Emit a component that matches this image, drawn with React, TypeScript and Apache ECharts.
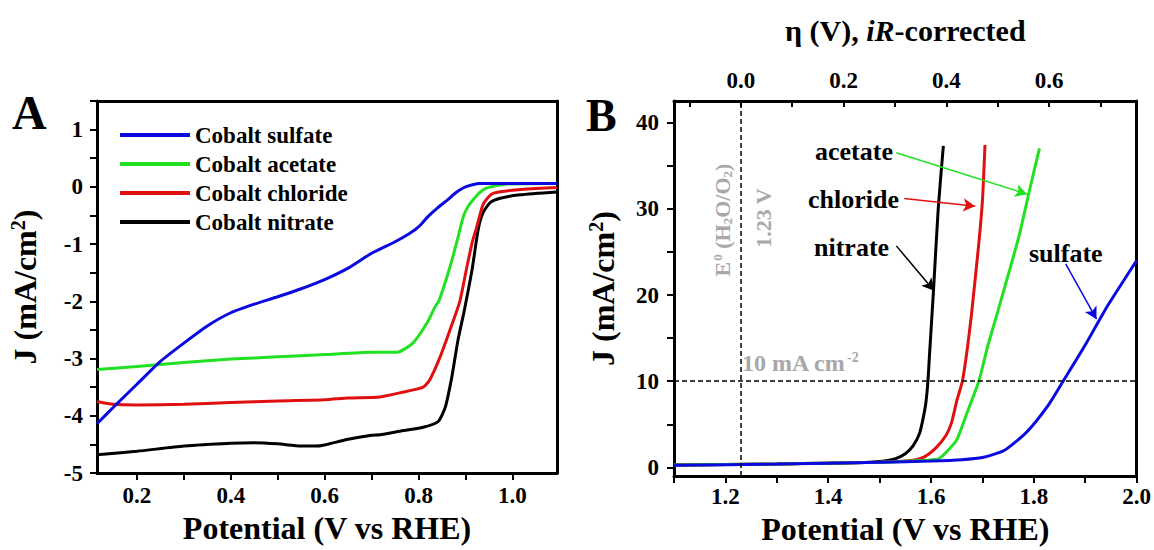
import React, { useEffect, useRef } from "react";
import * as echarts from "echarts";

const SERIF = '"Liberation Serif", "Times New Roman", serif';

// ---------- Names & colours ----------
const seriesNames = ["Cobalt sulfate", "Cobalt acetate", "Cobalt chloride", "Cobalt nitrate"];
const seriesColors = ["#0a0ae0", "#22e022", "#e01010", "#000000"];

// ---------- Panel A (ORR-like sweep) ----------
const sulfateA_V = [0.115, 0.15, 0.2, 0.25, 0.3, 0.35, 0.4, 0.45, 0.5, 0.55, 0.6, 0.65, 0.7, 0.75, 0.78, 0.8, 0.82, 0.84, 0.86, 0.88, 0.9, 0.93, 1.0, 1.095];
const sulfateA_J = [-4.14, -3.85, -3.45, -3.05, -2.73, -2.43, -2.2, -2.05, -1.92, -1.78, -1.62, -1.42, -1.16, -0.96, -0.82, -0.7, -0.52, -0.37, -0.24, -0.1, 0.0, 0.06, 0.06, 0.06];

const acetateA_V = [0.115, 0.2, 0.3, 0.4, 0.5, 0.6, 0.7, 0.754, 0.788, 0.818, 0.835, 0.844, 0.867, 0.882, 0.895, 0.905, 0.916, 0.93, 0.945, 0.988, 1.095];
const acetateA_J = [-3.19, -3.14, -3.07, -3.01, -2.97, -2.93, -2.89, -2.89, -2.73, -2.38, -2.1, -1.98, -1.4, -0.95, -0.53, -0.35, -0.23, -0.1, -0.02, 0.05, 0.06];

const chlorideA_V = [0.115, 0.15, 0.2, 0.3, 0.4, 0.5, 0.6, 0.65, 0.718, 0.76, 0.81, 0.824, 0.846, 0.867, 0.888, 0.903, 0.915, 0.924, 0.937, 0.95, 0.96, 1.0, 1.05, 1.095];
const chlorideA_J = [-3.75, -3.8, -3.81, -3.8, -3.77, -3.74, -3.72, -3.69, -3.67, -3.6, -3.5, -3.37, -2.97, -2.5, -2.0, -1.4, -0.95, -0.7, -0.32, -0.17, -0.11, -0.06, -0.03, -0.01];

const nitrateA_V = [0.115, 0.2, 0.3, 0.4, 0.45, 0.5, 0.55, 0.58, 0.6, 0.65, 0.7, 0.718, 0.76, 0.81, 0.842, 0.857, 0.871, 0.884, 0.897, 0.914, 0.927, 0.937, 0.952, 0.974, 1.016, 1.095];
const nitrateA_J = [-4.68, -4.62, -4.53, -4.48, -4.47, -4.49, -4.53, -4.53, -4.51, -4.41, -4.34, -4.33, -4.27, -4.2, -4.1, -3.85, -3.32, -2.68, -2.18, -1.45, -0.75, -0.46, -0.28, -0.2, -0.14, -0.09];

// ---------- Panel B (OER polarisation) ----------
const nitrateB_E = [1.1, 1.2, 1.3, 1.4, 1.48, 1.51, 1.53, 1.55, 1.565, 1.578, 1.585, 1.59, 1.594, 1.597, 1.605, 1.614, 1.624];
const nitrateB_J = [0.3, 0.35, 0.4, 0.5, 0.6, 0.75, 1.0, 1.6, 2.5, 4.0, 5.8, 7.5, 10, 13, 20.7, 30, 37.3];

const chlorideB_E = [1.1, 1.2, 1.3, 1.4, 1.5, 1.56, 1.586, 1.61, 1.629, 1.64, 1.65, 1.661, 1.67, 1.679, 1.693, 1.7, 1.705];
const chlorideB_J = [0.3, 0.35, 0.4, 0.5, 0.6, 0.8, 1.2, 2.3, 3.7, 5.2, 7.7, 10, 13.5, 17.9, 26, 30.9, 37.4];

const acetateB_E = [1.1, 1.2, 1.3, 1.4, 1.5, 1.58, 1.614, 1.63, 1.65, 1.671, 1.693, 1.71, 1.729, 1.75, 1.771, 1.793, 1.811];
const acetateB_J = [0.3, 0.35, 0.4, 0.5, 0.6, 0.8, 1.0, 1.8, 3.2, 6.5, 10, 14, 17.9, 22.3, 26.8, 32.5, 37];

const sulfateB_E = [1.1, 1.3, 1.5, 1.6, 1.66, 1.7, 1.743, 1.786, 1.829, 1.857, 1.9, 1.943, 2.0];
const sulfateB_J = [0.25, 0.4, 0.6, 0.75, 0.9, 1.15, 2.0, 4.1, 7.3, 10, 14.2, 18.7, 24];

// Reference lines (panel B)
const E0_H2O_O2 = 1.23;
const J_10 = 10;

// Annotation arrows (panel B), [startE, startJ, endE, endJ]
const arrowAcetate = [1.5325, 36.5, 1.787, 31.7];
const arrowChloride = [1.548, 31.2, 1.686, 30.3];
const arrowNitrate = [1.5325, 25.7, 1.606, 20.5];
const arrowSulfate = [1.862, 23.6, 1.922, 17.2];

// ---------- Axes ticks ----------
const aXLabels = [0.2, 0.4, 0.6, 0.8, 1.0];
const aXTicks = [0.2, 0.3, 0.4, 0.5, 0.6, 0.7, 0.8, 0.9, 1.0];
const aYLabels = [-5, -4, -3, -2, -1, 0, 1];
const aYTicks = [-5, -4.5, -4, -3.5, -3, -2.5, -2, -1.5, -1, -0.5, 0, 0.5, 1, 1.5];
const bXLabels = [1.2, 1.4, 1.6, 1.8, 2.0];
const bXTicks = [1.1, 1.2, 1.3, 1.4, 1.5, 1.6, 1.7, 1.8, 1.9, 2.0];
const bYLabels = [0, 10, 20, 30, 40];
const bYTicks = [0, 5, 10, 15, 20, 25, 30, 35, 40];
const etaLabels = [0, 0.2, 0.4, 0.6];
const etaTicks = [-0.1, 0, 0.1, 0.2, 0.3, 0.4, 0.5, 0.6, 0.7];

const zip = (xs: number[], ys: number[]) => xs.map((x, i) => [x, ys[i]]);

const tickLabelStyle = {
  fontFamily: SERIF,
  fontWeight: "bold" as const,
  fontSize: 23,
  color: "#000",
};
const nameStyle = {
  fontFamily: SERIF,
  fontWeight: "bold" as const,
  fontSize: 32,
  color: "#000",
};
const jNameStyle = {
  ...nameStyle,
  rich: {
    m: { fontFamily: SERIF, fontWeight: "bold", fontSize: 32, color: "#000" },
    sup: { fontFamily: SERIF, fontWeight: "bold", fontSize: 20, color: "#000", padding: [0, 0, 14, 0] },
  },
};

function arrowLine(a: number[], color: string) {
  return {
    silent: true,
    symbol: ["none", "arrow"],
    symbolSize: [10, 12],
    label: { show: false },
    lineStyle: { color, width: 1.5, type: "solid" },
    data: [[{ coord: [a[0], a[1]] }, { coord: [a[2], a[3]] }]],
  };
}

const axisLine = { show: true, onZero: false, lineStyle: { color: "#000", width: 3 } };
// frame-only axis (top/right borders)
function frameAxis(gridIndex: number, position: string, min: number, max: number) {
  return {
    type: "value",
    gridIndex,
    position,
    min,
    max,
    axisLine,
    axisTick: { show: false },
    axisLabel: { show: false },
    splitLine: { show: false },
  };
}

export default function App() {
  const ref = useRef<HTMLDivElement>(null);
  useEffect(() => {
    if (!ref.current) return;
    const chart = echarts.init(ref.current, undefined, { renderer: "svg" });

    const lineSeries = (name: string, color: string, data: number[][], xi: number, yi: number, extra: any = {}) => ({
      type: "line",
      name,
      xAxisIndex: xi,
      yAxisIndex: yi,
      data,
      showSymbol: false,
      symbol: "none",
      smooth: 0.2,
      lineStyle: { color, width: 3 },
      itemStyle: { color },
      ...extra,
    });

    const option: any = {
      animation: false,
      backgroundColor: "#fff",
      textStyle: { fontFamily: SERIF },
      legend: {
        data: seriesNames,
        orient: "vertical",
        left: 120,
        top: 123,
        padding: 0,
        itemWidth: 70,
        itemHeight: 4,
        itemGap: 5,
        icon: "rect",
        selectedMode: false,
        textStyle: { fontFamily: SERIF, fontWeight: "bold", fontSize: 23, color: "#000", lineHeight: 24 },
      },
      grid: [
        { left: 97, top: 101, width: 460, height: 372 },
        { left: 674, top: 101, width: 464, height: 378 },
      ],
      xAxis: [
        {
          type: "value",
          gridIndex: 0,
          position: "bottom",
          min: 0.115,
          max: 1.095,
          axisLine,
          axisTick: { show: true, customValues: aXTicks, length: 7, lineStyle: { color: "#000", width: 2 } },
          axisLabel: { ...tickLabelStyle, customValues: aXLabels, margin: 11, formatter: (v: number) => v.toFixed(1) },
          splitLine: { show: false },
          name: "Potential (V vs RHE)",
          nameLocation: "middle",
          nameGap: 37,
          nameTextStyle: nameStyle,
        },
        {
          type: "value",
          gridIndex: 1,
          position: "bottom",
          min: 1.1,
          max: 2.0,
          axisLine,
          axisTick: { show: true, customValues: bXTicks, length: 7, lineStyle: { color: "#000", width: 2 } },
          axisLabel: { ...tickLabelStyle, customValues: bXLabels, margin: 9, formatter: (v: number) => v.toFixed(1) },
          splitLine: { show: false },
          name: "Potential (V vs RHE)",
          nameLocation: "middle",
          nameGap: 36,
          nameTextStyle: nameStyle,
        },
        {
          type: "value",
          gridIndex: 1,
          position: "top",
          min: 1.1 - E0_H2O_O2,
          max: 2.0 - E0_H2O_O2,
          axisLine,
          axisTick: { show: true, inside: true, customValues: etaTicks, length: 6, lineStyle: { color: "#000", width: 2 } },
          axisLabel: { ...tickLabelStyle, customValues: etaLabels, margin: 9, formatter: (v: number) => v.toFixed(1) },
          splitLine: { show: false },
          name: "{n|η (V), }{i|iR}{n|-corrected}",
          nameLocation: "middle",
          nameGap: 56,
          nameTextStyle: {
            ...nameStyle,
            fontSize: 30,
            rich: {
              n: { fontFamily: SERIF, fontWeight: "bold", fontSize: 30, color: "#000" },
              i: { fontFamily: SERIF, fontWeight: "bold", fontStyle: "italic", fontSize: 30, color: "#000" },
            },
          },
        },
        frameAxis(0, "top", 0.115, 1.095),
      ],
      yAxis: [
        {
          type: "value",
          gridIndex: 0,
          position: "left",
          min: -5,
          max: 1.5,
          axisLine,
          axisTick: { show: true, customValues: aYTicks, length: 7, lineStyle: { color: "#000", width: 2 } },
          axisLabel: { ...tickLabelStyle, customValues: aYLabels, margin: 14, formatter: (v: number) => String(v) },
          splitLine: { show: false },
          name: "{m|J (mA/cm}{sup|2}{m|)}",
          nameLocation: "middle",
          nameGap: 55,
          nameTextStyle: jNameStyle,
        },
        {
          type: "value",
          gridIndex: 1,
          position: "left",
          min: -1,
          max: 42.5,
          axisLine,
          axisTick: { show: true, customValues: bYTicks, length: 7, lineStyle: { color: "#000", width: 2 } },
          axisLabel: { ...tickLabelStyle, customValues: bYLabels, margin: 15, formatter: (v: number) => String(v) },
          splitLine: { show: false },
          name: "{m|J (mA/cm}{sup|2}{m|)}",
          nameLocation: "middle",
          nameGap: 54,
          nameTextStyle: jNameStyle,
        },
        frameAxis(0, "right", -5, 1.5),
        frameAxis(1, "right", -1, 42.5),
      ],
      series: [
        lineSeries(seriesNames[3], seriesColors[3], zip(nitrateA_V, nitrateA_J), 0, 0),
        lineSeries(seriesNames[2], seriesColors[2], zip(chlorideA_V, chlorideA_J), 0, 0),
        lineSeries(seriesNames[1], seriesColors[1], zip(acetateA_V, acetateA_J), 0, 0),
        lineSeries(seriesNames[0], seriesColors[0], zip(sulfateA_V, sulfateA_J), 0, 0),
        {
          type: "line",
          name: "refLines",
          xAxisIndex: 1,
          yAxisIndex: 1,
          data: [],
          markLine: {
            silent: true,
            symbol: "none",
            label: { show: false },
            lineStyle: { color: "#000", width: 1.5, type: [5, 3] },
            data: [{ xAxis: E0_H2O_O2 }, { yAxis: J_10 }],
          },
        },
        lineSeries(seriesNames[3], seriesColors[3], zip(nitrateB_E, nitrateB_J), 1, 1, { markLine: arrowLine(arrowNitrate, "#000") }),
        lineSeries(seriesNames[2], seriesColors[2], zip(chlorideB_E, chlorideB_J), 1, 1, { markLine: arrowLine(arrowChloride, seriesColors[2]) }),
        lineSeries(seriesNames[1], seriesColors[1], zip(acetateB_E, acetateB_J), 1, 1, { markLine: arrowLine(arrowAcetate, seriesColors[1]) }),
        lineSeries(seriesNames[0], seriesColors[0], zip(sulfateB_E, sulfateB_J), 1, 1, { markLine: arrowLine(arrowSulfate, seriesColors[0]) }),
      ],
      graphic: [
        { type: "text", left: 12, top: 88, style: { text: "A", fontFamily: SERIF, fontWeight: "bold", fontSize: 48, fill: "#000" } },
        { type: "text", left: 586, top: 92, style: { text: "B", fontFamily: SERIF, fontWeight: "bold", fontSize: 46, fill: "#000" } },
        { type: "text", x: 815, y: 151, style: { text: "acetate", fontFamily: SERIF, fontWeight: "bold", fontSize: 26, fill: "#000", textAlign: "left", textVerticalAlign: "middle" } },
        { type: "text", x: 808, y: 199, style: { text: "chloride", fontFamily: SERIF, fontWeight: "bold", fontSize: 26, fill: "#000", textAlign: "left", textVerticalAlign: "middle" } },
        { type: "text", x: 814, y: 247, style: { text: "nitrate", fontFamily: SERIF, fontWeight: "bold", fontSize: 26, fill: "#000", textAlign: "left", textVerticalAlign: "middle" } },
        { type: "text", x: 1029, y: 253, style: { text: "sulfate", fontFamily: SERIF, fontWeight: "bold", fontSize: 26, fill: "#000", textAlign: "left", textVerticalAlign: "middle" } },
        {
          type: "text",
          x: 722,
          y: 220,
          rotation: Math.PI / 2,
          style: {
            text: "{a|E}{sup|0}{a| (H}{sub|2}{a|O/O}{sub|2}{a|)}",
            textAlign: "center",
            textVerticalAlign: "middle",
            rich: {
              a: { fontFamily: SERIF, fontWeight: "bold", fontSize: 22, fill: "#a8a8a8" },
              sup: { fontFamily: SERIF, fontWeight: "bold", fontSize: 13, fill: "#a8a8a8", padding: [0, 0, 10, 1] },
              sub: { fontFamily: SERIF, fontWeight: "bold", fontSize: 13, fill: "#a8a8a8", padding: [10, 0, 0, 0] },
            },
          },
        },
        {
          type: "text",
          x: 763,
          y: 218,
          rotation: Math.PI / 2,
          style: { text: "1.23 V", fontFamily: SERIF, fontWeight: "bold", fontSize: 22, fill: "#a8a8a8", textAlign: "center", textVerticalAlign: "middle" },
        },
        {
          type: "text",
          x: 742,
          y: 363,
          style: {
            text: "{a|10 mA cm}{sup|-2}",
            textAlign: "left",
            textVerticalAlign: "middle",
            rich: {
              a: { fontFamily: SERIF, fontWeight: "bold", fontSize: 24, fill: "#a8a8a8" },
              sup: { fontFamily: SERIF, fontWeight: "bold", fontSize: 14, fill: "#a8a8a8", padding: [0, 0, 12, 1] },
            },
          },
        },
      ],
    };

    chart.setOption(option);
    return () => chart.dispose();
  }, []);

  return <div ref={ref} style={{ position: "absolute", left: 0, top: 0, width: 1154, height: 550 }} />;
}
